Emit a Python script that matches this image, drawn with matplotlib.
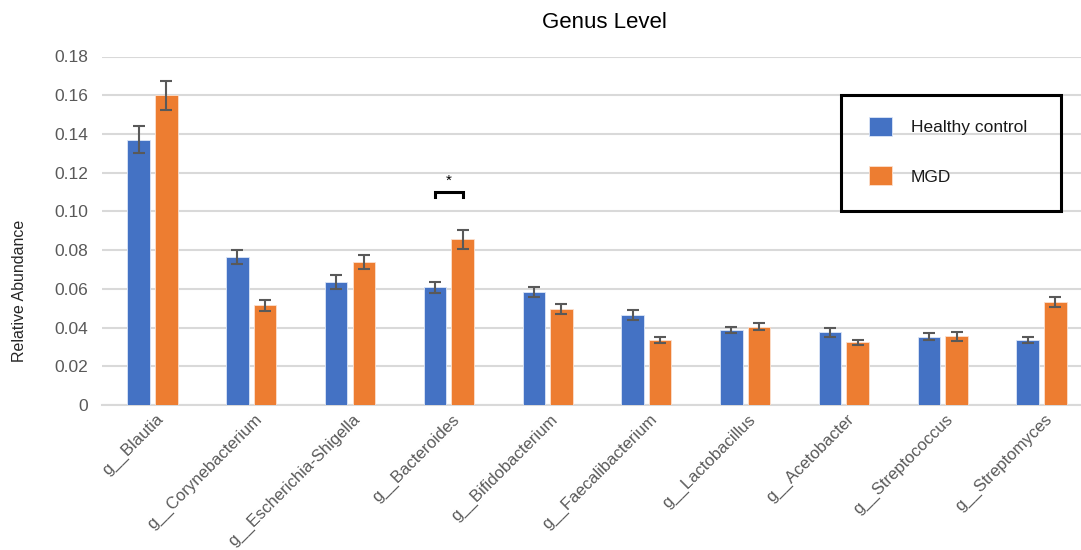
import matplotlib.pyplot as plt
import numpy as np
from matplotlib.patches import Rectangle
from matplotlib.transforms import offset_copy

plt.rcParams['font.family'] = ['Liberation Sans', 'DejaVu Sans']

genera = ["g__Blautia", "g__Corynebacterium", "g__Escherichia-Shigella", "g__Bacteroides",
          "g__Bifidobacterium", "g__Faecalibacterium", "g__Lactobacillus", "g__Acetobacter",
          "g__Streptococcus", "g__Streptomyces"]
healthy = [0.137, 0.0765, 0.0636, 0.0607, 0.0585, 0.0465, 0.0386, 0.0375, 0.0353, 0.0334]
healthy_err = [0.007, 0.0035, 0.0036, 0.0026, 0.0026, 0.0027, 0.0016, 0.0025, 0.0017, 0.0016]
mgd = [0.160, 0.0516, 0.0737, 0.0855, 0.0494, 0.0334, 0.0405, 0.0324, 0.0355, 0.0533]
mgd_err = [0.0075, 0.0028, 0.0036, 0.0047, 0.0026, 0.0016, 0.0016, 0.0014, 0.0023, 0.0027]

blue = "#4472c4"
orange = "#ed7d31"
W, H = 1081, 550

fig = plt.figure(figsize=(W / 100, H / 100), dpi=100)
ax = fig.add_axes([102 / W, 145 / H, 979 / W, 348.5 / H])

x = np.arange(len(genera))
w = 0.228
off = 0.14
err_kw = dict(ecolor="#595959", elinewidth=1.5, capsize=4, capthick=1.5)
ax.bar(x - off, healthy, w, yerr=healthy_err, color=blue, edgecolor="#dce6f7", linewidth=0.6,
       error_kw=err_kw, label="Healthy control", zorder=3)
ax.bar(x + off, mgd, w, yerr=mgd_err, color=orange, edgecolor="#fbe0cf", linewidth=0.6,
       error_kw=err_kw, label="MGD", zorder=3)

# significance bracket over Bacteroides
i = genera.index("g__Bacteroides")
ax.plot([i - off, i - off, i + off, i + off], [0.1072, 0.110, 0.110, 0.1072],
        color="black", lw=2.2, zorder=4, solid_joinstyle="miter")
ax.text(i, 0.1157, "*", ha="center", va="center", fontsize=11, color="black")

ax.set_xlim(-0.511, 9.40)
ax.set_ylim(0, 0.18)
ticks = np.arange(0, 0.181, 0.02)
ax.set_yticks(ticks)
ax.set_yticklabels(["0"] + [f"{t:.2f}" for t in ticks[1:]])
ax.yaxis.grid(True, color="#d9d9d9", lw=1.5, zorder=0)
ax.set_axisbelow(True)
for s in ["top", "right", "left"]:
    ax.spines[s].set_visible(False)
ax.spines["bottom"].set_color("#d9d9d9")
ax.spines["bottom"].set_linewidth(1.5)
ax.tick_params(axis="y", length=0, labelsize=12.5, colors="#595959", pad=10)
ax.tick_params(axis="x", length=0)

ax.set_xticks(x)
ax.set_xticklabels([])
for xi, name in zip(x, genera):
    tr = offset_copy(ax.get_xaxis_transform(), fig=fig, x=8, y=-12, units="dots")
    ax.text(xi, 0, name, transform=tr, rotation=45, rotation_mode="anchor",
            ha="right", va="center", fontsize=12, color="#595959")

fig.text(20 / W, 1 - 291 / H, "Relative Abundance", rotation=90, ha="center", va="center",
         fontsize=11.5, color="#262626")
fig.text(604 / W, 1 - 22 / H, "Genus Level", ha="center", va="center", fontsize=16, color="black")

# legend with a boxed frame
leg = fig.legend(loc="upper left", bbox_to_anchor=(869 / W, 1 - 117 / H), frameon=False,
                 fontsize=12.5, handlelength=1.3, handleheight=1.3, handletextpad=1.1,
                 labelspacing=1.75, borderpad=0, borderaxespad=0)
for t in leg.get_texts():
    t.set_color("#1a1a1a")
fig.patches.append(Rectangle((841 / W, 1 - 211 / H), 220 / W, 116 / H, transform=fig.transFigure,
                             fill=False, edgecolor="black", lw=2.2, zorder=5))

fig.savefig("out.png", dpi=100)
